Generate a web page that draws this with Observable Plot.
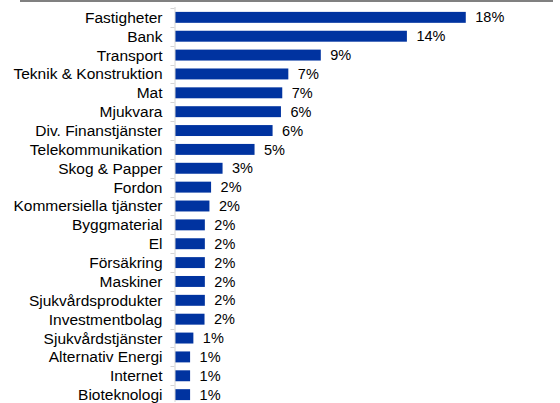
<!DOCTYPE html>
<html>
<head>
<meta charset="utf-8">
<script src="https://cdn.jsdelivr.net/npm/d3@7"></script>
<script src="https://cdn.jsdelivr.net/npm/@observablehq/plot@0.6"></script>
<style>
  html, body { margin: 0; padding: 0; background: #fff; }
  #wrap { position: relative; width: 560px; height: 403px; overflow: hidden; }
  #topline { position: absolute; left: 20px; top: 0; width: 533px; height: 2px; background: #808080; }
  svg { display: block; }
</style>
</head>
<body>
<div id="wrap"><div id="topline"></div><div id="chart"></div></div>
<script>
const categories = [
  "Fastigheter", "Bank", "Transport", "Teknik & Konstruktion", "Mat", "Mjukvara",
  "Div. Finanstjänster", "Telekommunikation", "Skog & Papper", "Fordon",
  "Kommersiella tjänster", "Byggmaterial", "El", "Försäkring", "Maskiner",
  "Sjukvårdsprodukter", "Investmentbolag", "Sjukvårdstjänster", "Alternativ Energi",
  "Internet", "Bioteknologi"
];
const shares = [
  17.73, 14.14, 8.89, 6.91, 6.54, 6.46,
  5.95, 4.85, 2.90, 2.20,
  2.10, 1.82, 1.82, 1.82, 1.82,
  1.82, 1.80, 1.12, 0.92,
  0.92, 0.92
];

const data = categories.map((c, i) => ({category: c, value: shares[i], label: Math.round(shares[i]) + "%"}));

const chart = Plot.plot({
  width: 560,
  height: 403,
  marginLeft: 175,
  marginRight: 57,
  marginTop: 10,
  marginBottom: 1,
  style: {fontFamily: "'Liberation Sans', Arial, sans-serif", fontSize: "15.5px", color: "#000", background: "#fff"},
  x: {domain: [0, 20], axis: null},
  y: {domain: categories, paddingInner: 0.42, paddingOuter: 0.1, round: false, label: null},
  marks: [
    Plot.barX(data, {y: "category", x: "value", fill: "#0033a0"}),
    Plot.ruleX([0], {stroke: "#d4d4d4", dx: -0.5, insetTop: -3}),
    Plot.axisY({tickSize: 0, tickPadding: 13, fontSize: 15.5, fill: "#000", label: null}),
    Plot.text(data, {y: "category", x: "value", text: "label", dx: 9, textAnchor: "start", fontSize: 14.5, fill: "#000"})
  ]
});

// boundary ticks between categories, from the band scale
const ys = chart.scale("y");
const xs = chart.scale("x");
const x0 = xs.apply(0) - 0.5;
const svg = d3.select(chart);
const gap = (ys.step - ys.bandwidth) / 2;
const g = svg.append("g").attr("stroke", "#d4d4d4");
categories.forEach(c => {
  const yb = Math.round(ys.apply(c) - gap) + 0.5;
  g.append("line").attr("x1", x0 - 4).attr("x2", x0).attr("y1", yb).attr("y2", yb);
});

document.getElementById("chart").appendChild(chart);
</script>
</body>
</html>
